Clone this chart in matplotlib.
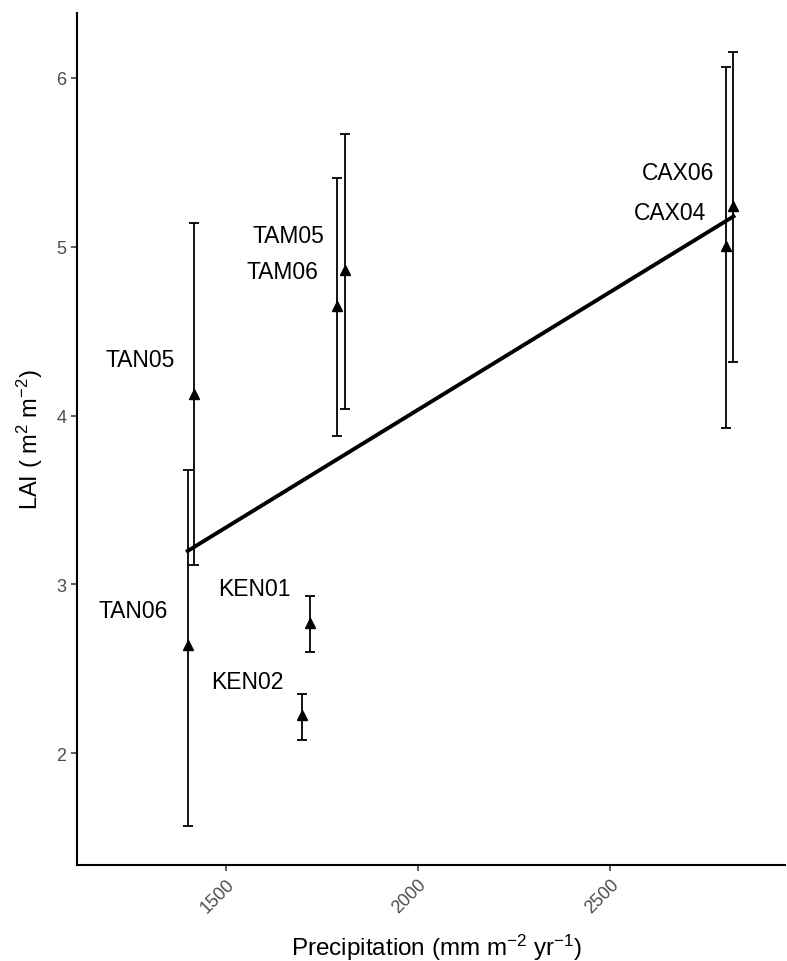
import numpy as np
import matplotlib
matplotlib.use("Agg")
import matplotlib.pyplot as plt

plt.rcParams["font.family"] = ["Liberation Sans", "DejaVu Sans"]
plt.rcParams["mathtext.fontset"] = "custom"
plt.rcParams["mathtext.rm"] = "Liberation Sans"
plt.rcParams["mathtext.it"] = "Liberation Sans:italic"
plt.rcParams["mathtext.bf"] = "Liberation Sans:bold"

# Site-level data: precipitation, mean LAI and error bar limits
sites = ["TAN06", "TAN05", "KEN02", "KEN01", "TAM06", "TAM05", "CAX04", "CAX06"]
precip = [1401, 1418, 1699, 1719, 1790, 1809, 2802, 2821]
lai = [2.64, 4.13, 2.225, 2.77, 4.65, 4.86, 5.005, 5.24]
lai_low = [1.57, 3.115, 2.08, 2.60, 3.88, 4.04, 3.925, 4.315]
lai_high = [3.68, 5.14, 2.35, 2.93, 5.41, 5.67, 6.063, 6.156]

# Label placement (data coordinates) for each site name
label_x = [1260, 1277, 1557, 1574, 1648, 1662, 2657, 2676]
label_y = [2.843, 4.335, 2.427, 2.978, 4.853, 5.066, 5.204, 5.441]

x = np.array(precip)
y = np.array(lai)
yerr = np.vstack([y - np.array(lai_low), np.array(lai_high) - y])

fig = plt.figure(figsize=(7.87, 9.62), dpi=100)
ax = fig.add_axes([77 / 787, 1 - 866 / 962, (785 - 77) / 787, (866 - 14) / 962])

ax.errorbar(x, y, yerr=yerr, fmt="none", ecolor="black", elinewidth=1.3,
            capsize=3.5, capthick=1.3, zorder=2)
ax.plot(x, y, linestyle="none", marker="^", color="black", markersize=7.5, zorder=3)

# Linear least-squares fit across the sites
slope, intercept = np.polyfit(x, y, 1)
xf = np.array([x.min(), x.max()])
ax.plot(xf, intercept + slope * xf, color="black", linewidth=2.8, zorder=4)

for name, lx, ly in zip(sites, label_x, label_y):
    ax.text(lx, ly, name, ha="center", va="center", fontsize=16.5, color="black")

ax.set_xlim(1113, 2955)
ax.set_ylim(1.338, 6.385)
ax.set_xticks([1500, 2000, 2500])
ax.set_yticks([2, 3, 4, 5, 6])
ax.tick_params(axis="both", colors="#333333", labelcolor="#4D4D4D", labelsize=13,
               length=4, width=1.1)
for lab in ax.get_xticklabels():
    lab.set_rotation(45)
    lab.set_ha("right")
    lab.set_va("top")
    lab.set_rotation_mode("anchor")

for side in ["top", "right"]:
    ax.spines[side].set_visible(False)
for side in ["left", "bottom"]:
    ax.spines[side].set_linewidth(1.5)
    ax.spines[side].set_color("black")

ax.set_xlabel(r"Precipitation (mm m$^{-2}$ yr$^{-1}$)", fontsize=17.5)
ax.xaxis.set_label_coords((437 - 77) / 708, -(948 - 866) / 852, transform=ax.transAxes)
ax.xaxis.label.set_va("center")
ax.set_ylabel(r"LAI ( m$^{2}$ m$^{-2}$)", fontsize=17)
ax.yaxis.set_label_coords(-(77 - 30) / 708, 0.5)
ax.yaxis.label.set_va("center")

fig.savefig("out.png", dpi=100)
